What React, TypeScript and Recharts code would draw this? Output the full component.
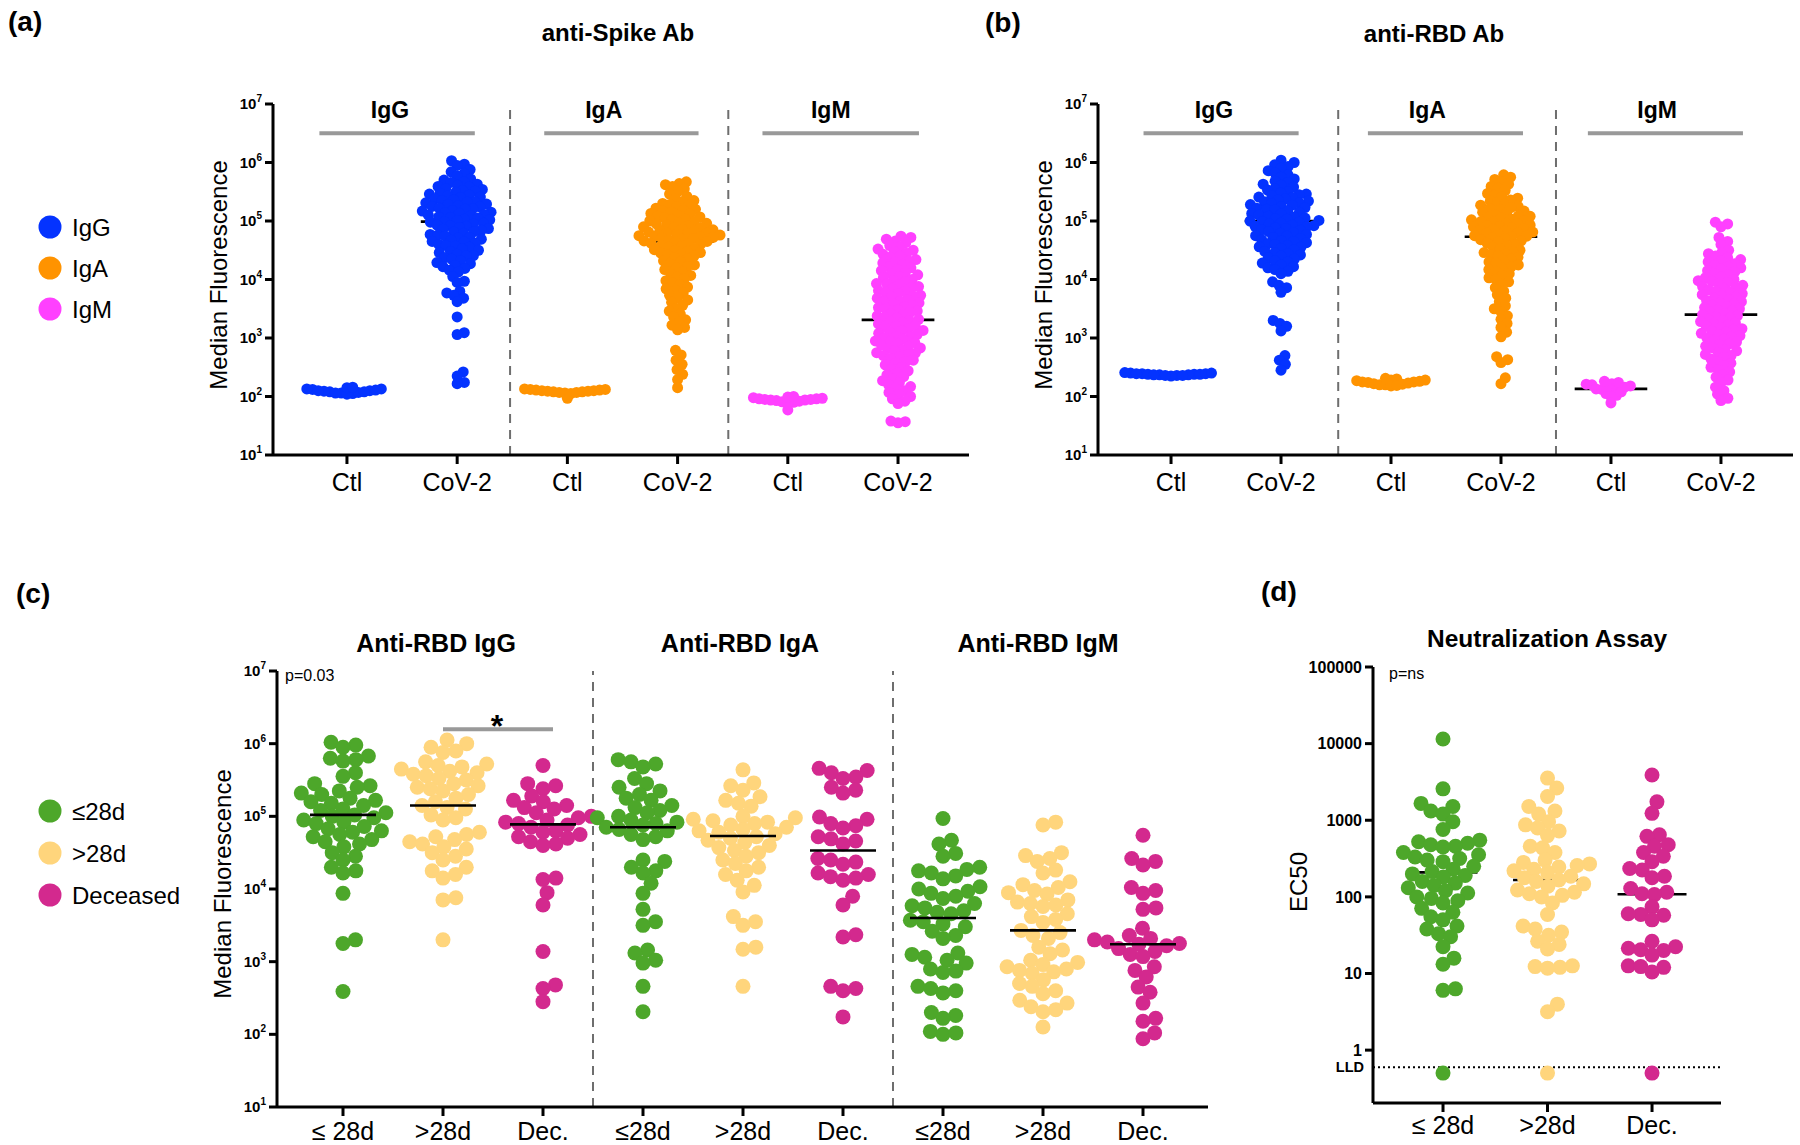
import React from 'react';
import { ScatterChart, Scatter, XAxis, YAxis, ReferenceLine } from 'recharts';

const FONT = '"Liberation Sans", Arial, Helvetica, sans-serif';

// ================= DATA (values are log10 of the plotted quantity) =================
const abCategories = ['Ctl', 'CoV-2', 'Ctl', 'CoV-2', 'Ctl', 'CoV-2'];
const abGroupLabels = ['IgG', 'IgA', 'IgM'];
const powerTicks = [1, 2, 3, 4, 5, 6, 7];

// (a) anti-Spike
const spikeCtlIgG = [2.13, 2.1, 2.08, 2.12, 2.06, 2.09, 2.05, 2.07, 2.04, 2.1, 2.08, 2.06, 2.11, 2.13, 2.15, 2.16];
const spikeCovIgG = [
  6.03, 5.97, 5.95, 5.88, 5.84, 5.81, 5.77, 5.72, 5.7, 5.67, 5.66, 5.63, 5.61,
  5.59, 5.58, 5.55, 5.54, 5.52, 5.51, 5.49, 5.47, 5.46, 5.44, 5.43, 5.41, 5.4, 5.38, 5.36, 5.35, 5.33, 5.32, 5.31, 5.29, 5.28,
  5.26, 5.25, 5.24, 5.22, 5.21, 5.2, 5.18, 5.17, 5.15, 5.14, 5.13, 5.11, 5.1, 5.09,
  5.07, 5.06, 5.05, 5.03, 5.02, 5.01, 4.99, 4.98, 4.96, 4.95, 4.93, 4.92, 4.91, 4.89,
  4.87, 4.86, 4.84, 4.82, 4.81, 4.79, 4.77, 4.76, 4.74, 4.72, 4.71, 4.69,
  4.67, 4.65, 4.64, 4.62, 4.6, 4.58, 4.57, 4.55, 4.52, 4.5,
  4.48, 4.46, 4.43, 4.41, 4.4, 4.37, 4.35, 4.32, 4.29, 4.27, 4.24, 4.22, 4.19, 4.16, 4.13,
  4.05, 3.97, 3.95, 3.8, 3.77, 3.73, 3.68, 3.62, 3.36, 3.09, 3.06, 2.42, 2.35, 2.24, 2.22,
];
const spikeCtlIgA = [2.1, 2.12, 2.08, 2.06, 1.97, 2.07, 2.11, 2.09, 2.05, 2.08, 2.1, 2.07, 2.09, 2.11, 2.12, 2.13];
const spikeCovIgA = [
  5.67, 5.64, 5.62, 5.59, 5.55, 5.5, 5.46, 5.42,
  5.38, 5.35, 5.33, 5.3, 5.28, 5.26, 5.24, 5.22, 5.2,
  5.18, 5.17, 5.15, 5.13, 5.12, 5.1, 5.08, 5.07, 5.05, 5.03, 5.02, 5.0,
  4.99, 4.97, 4.96, 4.95, 4.93, 4.92, 4.9, 4.89, 4.88, 4.86, 4.85, 4.84, 4.83, 4.81, 4.8,
  4.79, 4.78, 4.77, 4.76, 4.75, 4.74, 4.73, 4.72, 4.71, 4.7, 4.69, 4.68, 4.66, 4.65, 4.64, 4.62, 4.61, 4.6,
  4.58, 4.56, 4.55, 4.53, 4.51, 4.5, 4.48, 4.46, 4.45, 4.43, 4.42, 4.4,
  4.37, 4.35, 4.32, 4.3, 4.27, 4.25, 4.22, 4.2, 4.17, 4.13, 4.1, 4.07, 4.04, 4.01,
  3.98, 3.94, 3.91, 3.87, 3.84, 3.81, 3.77, 3.73, 3.69, 3.65, 3.61, 3.56, 3.51, 3.46, 3.41,
  3.36, 3.31, 3.27, 3.22, 3.18, 3.14, 2.79, 2.71, 2.62, 2.55, 2.46, 2.38, 2.29, 2.15,
];
const spikeCtlIgM = [1.98, 1.96, 1.94, 1.92, 1.95, 1.9, 1.77, 1.93, 1.96, 1.91, 1.89, 1.94, 1.99, 2.0, 1.97, 1.95];
const spikeCovIgM = [
  4.74, 4.72, 4.69, 4.66, 4.63, 4.58, 4.56, 4.52, 4.5,
  4.48, 4.45, 4.43, 4.4, 4.38, 4.34, 4.32, 4.3, 4.28, 4.26, 4.22, 4.2, 4.17, 4.15, 4.12, 4.1,
  4.08, 4.05, 4.03, 4.0, 3.98, 3.96, 3.93, 3.92, 3.9, 3.88, 3.86, 3.84, 3.81, 3.8, 3.78, 3.76, 3.73, 3.72, 3.7,
  3.68, 3.66, 3.63, 3.62, 3.6, 3.58, 3.56, 3.53, 3.52, 3.5, 3.48, 3.46, 3.44, 3.41, 3.4, 3.38, 3.35, 3.34, 3.32, 3.3,
  3.28, 3.26, 3.24, 3.21, 3.2, 3.18, 3.16, 3.13, 3.12, 3.1, 3.08, 3.06, 3.03, 3.02, 3.0, 2.98, 2.95, 2.94, 2.92, 2.9,
  2.88, 2.86, 2.83, 2.82, 2.8, 2.78, 2.75, 2.74, 2.72, 2.7, 2.68, 2.65, 2.62, 2.6, 2.57, 2.54, 2.5,
  2.47, 2.44, 2.4, 2.37, 2.34, 2.3, 2.27, 2.24, 2.2, 2.17, 2.14, 2.1, 2.07, 2.03, 2.0, 1.96, 1.92, 1.88,
  1.57, 1.55, 1.58,
];
const spikeMedians = [2.08, 4.99, 2.09, 4.65, 1.94, 3.31];

// (b) anti-RBD
const rbdCtlIgG = [2.38, 2.4, 2.36, 2.39, 2.37, 2.35, 2.38, 2.36, 2.37, 2.39, 2.36, 2.38, 2.37, 2.39, 2.4, 2.41];
const rbdCovIgG = [
  6.04, 6.0, 5.96, 5.93, 5.9, 5.86, 5.82, 5.79, 5.75, 5.72,
  5.68, 5.66, 5.63, 5.61, 5.58, 5.55, 5.53, 5.5,
  5.48, 5.46, 5.45, 5.43, 5.41, 5.4, 5.38, 5.36, 5.34, 5.33, 5.31, 5.3,
  5.28, 5.27, 5.25, 5.23, 5.22, 5.2, 5.19, 5.17, 5.15, 5.13, 5.12, 5.1,
  5.08, 5.07, 5.05, 5.04, 5.03, 5.01, 5.0, 4.99, 4.98, 4.96, 4.95, 4.93, 4.92, 4.91, 4.9,
  4.88, 4.87, 4.85, 4.84, 4.82, 4.8, 4.79, 4.77, 4.75, 4.74, 4.72, 4.7,
  4.68, 4.66, 4.65, 4.63, 4.61, 4.6, 4.58, 4.56, 4.55, 4.53, 4.51,
  4.48, 4.46, 4.44, 4.42, 4.4, 4.37, 4.35, 4.32, 4.3, 4.28, 4.25, 4.22, 4.2, 4.17, 4.14, 4.1,
  3.96, 3.9, 3.86, 3.78, 3.3, 3.25, 3.2, 3.12, 2.7, 2.62, 2.55, 2.45,
];
const rbdCtlIgA = [2.28, 2.3, 2.25, 2.22, 2.2, 2.26, 2.21, 2.18, 2.23, 2.19, 2.24, 2.2, 2.25, 2.27, 2.28, 2.31];
const rbdCovIgA = [
  5.79, 5.75, 5.71, 5.67, 5.63, 5.59, 5.56, 5.52,
  5.47, 5.44, 5.41, 5.39, 5.36, 5.34, 5.31,
  5.29, 5.27, 5.25, 5.23, 5.21, 5.19, 5.17, 5.15, 5.13, 5.11,
  5.09, 5.08, 5.06, 5.05, 5.03, 5.02, 5.01, 4.99, 4.98, 4.96, 4.95, 4.93, 4.92, 4.91, 4.9,
  4.88, 4.87, 4.85, 4.84, 4.83, 4.81, 4.8, 4.79, 4.77, 4.75, 4.74, 4.73, 4.71, 4.7,
  4.68, 4.66, 4.64, 4.62, 4.6, 4.58, 4.55, 4.52, 4.5,
  4.48, 4.46, 4.44, 4.42, 4.4, 4.38, 4.35, 4.32, 4.3,
  4.28, 4.25, 4.22, 4.2, 4.17, 4.13, 4.1, 4.07, 4.03, 4.0, 3.96, 3.92,
  3.86, 3.8, 3.74, 3.68, 3.62, 3.55, 3.5, 3.45, 3.38, 3.32, 3.25, 3.18, 3.1, 3.02,
  2.68, 2.63, 2.58, 2.32, 2.22,
];
const rbdCtlIgM = [2.22, 2.18, 2.1, 2.05, 2.15, 2.12, 2.2, 2.02, 2.08, 2.0, 2.17, 2.26, 2.13, 1.89, 2.16, 2.21, 2.24];
const rbdCovIgM = [
  4.98, 4.95, 4.9, 4.72, 4.65, 4.6,
  4.5, 4.46, 4.44, 4.4, 4.37, 4.34, 4.32, 4.3, 4.27, 4.24, 4.22, 4.2,
  4.18, 4.15, 4.13, 4.1, 4.08, 4.05, 4.03, 4.0,
  3.98, 3.97, 3.95, 3.93, 3.9, 3.88, 3.86, 3.84, 3.82, 3.8,
  3.78, 3.76, 3.74, 3.72, 3.7, 3.68, 3.66, 3.64, 3.62, 3.6,
  3.58, 3.56, 3.54, 3.52, 3.5, 3.48, 3.46, 3.44, 3.42, 3.4,
  3.38, 3.36, 3.34, 3.32, 3.3, 3.28, 3.26, 3.24, 3.22, 3.2,
  3.18, 3.16, 3.14, 3.12, 3.1, 3.08, 3.06, 3.04, 3.02, 3.0,
  2.98, 2.96, 2.93, 2.9, 2.88, 2.86, 2.83, 2.8,
  2.78, 2.75, 2.72, 2.7, 2.67, 2.64, 2.6,
  2.57, 2.53, 2.5, 2.46, 2.42, 2.37, 2.33, 2.28, 2.24,
  2.16, 2.1, 2.04, 1.97, 1.93,
];
const rbdMedians = [2.38, 5.0, 2.25, 4.73, 2.13, 3.4];

// (c) anti-RBD by group
const cCategories = ['≤ 28d', '>28d', 'Dec.', '≤28d', '>28d', 'Dec.', '≤28d', '>28d', 'Dec.'];
const cTitles = ['Anti-RBD IgG', 'Anti-RBD IgA', 'Anti-RBD IgM'];
const cIgGLe28 = [6.02, 5.98, 5.95, 5.83, 5.8, 5.78, 5.76, 5.6, 5.55, 5.45, 5.42, 5.4, 5.35, 5.32, 5.3, 5.25, 5.22, 5.2, 5.18, 5.15, 5.1, 5.08, 5.05, 5.02, 5.0, 4.98, 4.95, 4.92, 4.9, 4.86, 4.83, 4.8, 4.78, 4.75, 4.72, 4.68, 4.65, 4.62, 4.58, 4.5, 4.45, 4.4, 4.3, 4.25, 4.22, 3.94, 3.3, 3.25, 2.59];
const cIgGGt28 = [6.05, 6.0, 5.95, 5.9, 5.88, 5.75, 5.72, 5.7, 5.68, 5.65, 5.62, 5.6, 5.58, 5.56, 5.52, 5.5, 5.45, 5.42, 5.4, 5.38, 5.35, 5.3, 5.25, 5.2, 5.15, 5.12, 5.1, 5.02, 4.98, 4.95, 4.78, 4.75, 4.72, 4.68, 4.65, 4.62, 4.58, 4.55, 4.5, 4.45, 4.4, 4.3, 4.25, 4.2, 4.15, 3.88, 3.85, 3.3];
const cIgGDec = [5.7, 5.45, 5.42, 5.38, 5.28, 5.22, 5.2, 5.15, 5.12, 5.1, 5.05, 5.0, 4.98, 4.95, 4.92, 4.9, 4.88, 4.85, 4.8, 4.78, 4.75, 4.72, 4.7, 4.65, 4.62, 4.6, 4.15, 4.13, 3.95, 3.78, 3.14, 2.68, 2.63, 2.45];
const cIgALe28 = [5.78, 5.75, 5.72, 5.68, 5.52, 5.45, 5.4, 5.35, 5.3, 5.25, 5.22, 5.15, 5.12, 5.08, 5.05, 5.0, 4.98, 4.95, 4.92, 4.9, 4.88, 4.85, 4.82, 4.8, 4.75, 4.72, 4.68, 4.4, 4.38, 4.3, 4.25, 4.22, 4.08, 3.94, 3.72, 3.55, 3.5, 3.16, 3.12, 3.02, 2.98, 2.66, 2.31];
const cIgAGt28 = [5.64, 5.46, 5.42, 5.36, 5.27, 5.22, 5.18, 5.14, 5.0, 4.98, 4.96, 4.94, 4.92, 4.9, 4.88, 4.85, 4.82, 4.8, 4.78, 4.76, 4.72, 4.7, 4.67, 4.64, 4.6, 4.57, 4.53, 4.5, 4.45, 4.4, 4.35, 4.3, 4.25, 4.2, 4.12, 4.05, 3.96, 3.62, 3.55, 3.5, 3.2, 3.17, 2.66];
const cIgADec = [5.66, 5.63, 5.6, 5.54, 5.52, 5.4, 5.36, 5.32, 4.99, 4.96, 4.9, 4.87, 4.84, 4.72, 4.69, 4.66, 4.62, 4.42, 4.4, 4.37, 4.34, 4.22, 4.2, 4.17, 4.15, 4.12, 3.9, 3.78, 3.37, 3.34, 2.66, 2.63, 2.6, 2.24];
const cIgMLe28 = [4.97, 4.67, 4.62, 4.49, 4.45, 4.3, 4.27, 4.25, 4.22, 4.18, 4.14, 4.03, 4.0, 3.97, 3.94, 3.9, 3.87, 3.8, 3.77, 3.74, 3.7, 3.68, 3.66, 3.57, 3.55, 3.52, 3.48, 3.42, 3.36, 3.32, 3.12, 3.1, 3.06, 3.02, 2.98, 2.9, 2.87, 2.85, 2.66, 2.63, 2.6, 2.57, 2.3, 2.26, 2.22, 2.04, 2.0, 2.02];
const cIgMGt28 = [4.92, 4.88, 4.5, 4.46, 4.42, 4.38, 4.26, 4.22, 4.1, 4.06, 4.02, 3.98, 3.95, 3.93, 3.85, 3.82, 3.8, 3.78, 3.76, 3.66, 3.62, 3.58, 3.54, 3.43, 3.4, 3.36, 3.32, 3.2, 3.16, 3.11, 3.02, 2.99, 2.96, 2.93, 2.9, 2.88, 2.86, 2.84, 2.75, 2.7, 2.66, 2.6, 2.56, 2.47, 2.43, 2.38, 2.34, 2.31, 2.1];
const cIgMDec = [4.74, 4.42, 4.38, 4.33, 4.02, 3.98, 3.94, 3.74, 3.72, 3.46, 3.36, 3.32, 3.3, 3.27, 3.25, 3.24, 3.22, 3.18, 3.14, 3.1, 3.07, 2.93, 2.88, 2.79, 2.65, 2.58, 2.43, 2.22, 2.18, 2.02, 1.94];
const cMedians = [5.02, 5.15, 4.89, 4.85, 4.73, 4.53, 3.6, 3.43, 3.24];

// (d) neutralization EC50
const dCategories = ['≤ 28d', '>28d', 'Dec.'];
const dTickLabels = ['1', '10', '100', '1000', '10000', '100000'];
const lldValue = 0.6;
const ec50Le28 = [4.06, 3.41, 3.22, 3.18, 3.12, 3.08, 2.98, 2.88, 2.74, 2.72, 2.7, 2.68, 2.66, 2.65, 2.58, 2.55, 2.52, 2.5, 2.48, 2.46, 2.4, 2.36, 2.33, 2.3, 2.28, 2.26, 2.2, 2.18, 2.15, 2.12, 2.08, 2.05, 2.0, 1.98, 1.95, 1.92, 1.85, 1.8, 1.74, 1.7, 1.62, 1.58, 1.52, 1.48, 1.35, 1.2, 1.12, 0.8, 0.78, -0.3];
const ec50Gt28 = [3.55, 3.42, 3.31, 3.18, 3.12, 3.08, 2.98, 2.94, 2.9, 2.86, 2.8, 2.66, 2.64, 2.58, 2.48, 2.45, 2.43, 2.41, 2.39, 2.36, 2.34, 2.32, 2.27, 2.25, 2.22, 2.2, 2.17, 2.14, 2.09, 2.06, 2.04, 2.02, 2.0, 1.92, 1.77, 1.62, 1.58, 1.54, 1.5, 1.42, 1.38, 1.32, 1.1, 1.09, 1.08, 1.07, 0.6, 0.5, -0.3];
const ec50Dec = [3.59, 3.24, 3.09, 2.81, 2.79, 2.68, 2.66, 2.58, 2.53, 2.46, 2.37, 2.35, 2.27, 2.25, 2.11, 2.06, 2.04, 2.03, 1.87, 1.77, 1.76, 1.78, 1.7, 1.42, 1.35, 1.33, 1.31, 1.3, 1.24, 1.1, 1.09, 1.08, 1.02, -0.3];
const dMedians = [2.32, 2.22, 2.035];

// ================= COLORS =================
const BLUE = '#0433FF';
const ORANGE = '#FF9300';
const MAGENTA = '#FF40FF';
const GREEN = '#4DA72A';
const YELLOW = '#FFD57C';
const DECEASED = '#D3298E';

// ================= HELPERS =================
function swarm(values: number[], ppy: number, gap: number): number[] {
  const order = values.map((_, i) => i).sort((a, b) => values[a] - values[b]);
  const placed: { x: number; y: number }[] = [];
  const out = new Array(values.length).fill(0);
  for (const i of order) {
    const y = values[i] * ppy;
    const near = placed.filter((p) => Math.abs(p.y - y) < gap);
    const cands = [0];
    for (const p of near) {
      const dx = Math.sqrt(gap * gap - (p.y - y) * (p.y - y));
      cands.push(p.x + dx, p.x - dx);
    }
    cands.sort((a, b) => Math.abs(a) - Math.abs(b));
    let chosen = 0;
    for (const c of cands) {
      if (near.every((p) => (p.x - c) ** 2 + (p.y - y) ** 2 >= gap * gap - 0.01)) {
        chosen = c;
        break;
      }
    }
    placed.push({ x: chosen, y });
    out[i] = chosen;
  }
  return out;
}

const PowerTick = (props: any) => {
  const { x, y, payload } = props;
  return (
    <text x={x} y={y} textAnchor="end" fill="#000" fontWeight={700} fontSize={15}>
      <tspan dy={5}>10</tspan>
      <tspan dy={-7} fontSize={10}>{payload.value}</tspan>
    </text>
  );
};

type Group = { x: number; values: number[]; color: string; gap: number };
type Bar = { x1: number; x2: number; y: number; label: string; labelX: number; fontSize: number; offset: number };

type PanelProps = {
  box: { left: number; top: number; width: number; height: number };
  plot: { left: number; right: number; top: number; bottom: number };
  xDomain: [number, number];
  yDomain: [number, number];
  xLabels: string[];
  yTicks: number[];
  yTick: any;
  yTickFormatter?: (v: number) => string;
  xTickMargin: number;
  groups: Group[];
  medians: number[];
  medianOnTop: boolean;
  r: number;
  separators: number[];
  bars: Bar[];
  lld?: number;
};

function Panel(p: PanelProps) {
  const xAxisHeight = 40;
  const ppx = (p.plot.right - p.plot.left) / (p.xDomain[1] - p.xDomain[0]);
  const ppy = (p.plot.bottom - p.plot.top) / (p.yDomain[1] - p.yDomain[0]);
  const series = p.groups.map((g) => {
    const off = swarm(g.values, ppy, g.gap);
    return g.values.map((v, i) => ({ x: g.x + off[i] / ppx, y: v }));
  });
  const medData = p.medians.map((m, i) => ({ x: p.groups[i].x, y: m }));
  const hw = 0.33 * ppx;
  const medianScatter = (
    <Scatter
      key="medians"
      data={medData}
      isAnimationActive={false}
      shape={(s: any) => (
        <line x1={s.cx - hw} x2={s.cx + hw} y1={s.cy} y2={s.cy} stroke="#000" strokeWidth={2.6} />
      )}
    />
  );
  const xTicks = p.xLabels.map((_, i) => i);
  return (
    <div style={{ position: 'absolute', left: p.box.left, top: p.box.top }}>
      <ScatterChart
        width={p.box.width}
        height={p.box.height}
        margin={{
          top: p.plot.top - p.box.top,
          right: p.box.left + p.box.width - p.plot.right,
          left: 0,
          bottom: p.box.top + p.box.height - p.plot.bottom - xAxisHeight,
        }}
      >
        <XAxis
          type="number"
          dataKey="x"
          domain={p.xDomain}
          ticks={xTicks}
          interval={0}
          allowDataOverflow
          height={xAxisHeight}
          tickFormatter={(v: number) => p.xLabels[Math.round(v)]}
          axisLine={{ stroke: '#000', strokeWidth: 3 }}
          tickLine={{ stroke: '#000', strokeWidth: 3 }}
          tickSize={9}
          tickMargin={p.xTickMargin}
          tick={{ fill: '#000', fontSize: 25 }}
        />
        <YAxis
          type="number"
          dataKey="y"
          domain={p.yDomain}
          ticks={p.yTicks}
          interval={0}
          allowDataOverflow
          width={p.plot.left - p.box.left}
          axisLine={{ stroke: '#000', strokeWidth: 3 }}
          tickLine={{ stroke: '#000', strokeWidth: 3 }}
          tickSize={8}
          tickMargin={3}
          tick={p.yTick}
          tickFormatter={p.yTickFormatter}
        />
        {p.separators.map((x, i) => (
          <ReferenceLine key={'sep' + i} x={x} stroke="#6e6e6e" strokeWidth={2} strokeDasharray="9 7" />
        ))}
        {p.bars.map((b, i) => (
          <ReferenceLine
            key={'bar' + i}
            segment={[{ x: b.x1, y: b.y }, { x: b.x2, y: b.y }]}
            stroke="#999999"
            strokeWidth={4}
            label={(lp: any) => {
              const vb = lp.viewBox || { x: 0, y: 0 };
              return (
                <text
                  x={vb.x + (b.labelX - b.x1) * ppx}
                  y={vb.y - b.offset}
                  textAnchor="middle"
                  fontSize={b.fontSize}
                  fontWeight={700}
                  fill="#000"
                >
                  {b.label}
                </text>
              );
            }}
          />
        ))}
        {p.lld !== undefined ? (
          <ReferenceLine
            key="lld"
            y={Math.log10(p.lld)}
            stroke="#000"
            strokeWidth={2}
            strokeDasharray="2 3"
            label={(lp: any) => {
              const vb = lp.viewBox || { x: 0, y: 0 };
              return (
                <text x={vb.x - 9} y={vb.y + 5} textAnchor="end" fontSize={14.5} fontWeight={700} fill="#000">
                  LLD
                </text>
              );
            }}
          />
        ) : null}
        {!p.medianOnTop ? medianScatter : null}
        {p.groups.map((g, gi) => (
          <Scatter
            key={'g' + gi}
            data={series[gi]}
            fill={g.color}
            isAnimationActive={false}
            shape={(s: any) => <circle cx={s.cx} cy={s.cy} r={p.r} fill={g.color} />}
          />
        ))}
        {p.medianOnTop ? medianScatter : null}
      </ScatterChart>
    </div>
  );
}

const abColors = [BLUE, BLUE, ORANGE, ORANGE, MAGENTA, MAGENTA];
const cColors = [GREEN, YELLOW, DECEASED];

export default function App() {
  const spikeGroups: Group[] = [spikeCtlIgG, spikeCovIgG, spikeCtlIgA, spikeCovIgA, spikeCtlIgM, spikeCovIgM].map(
    (vals, i) => ({ x: i, values: vals, color: abColors[i], gap: i % 2 === 0 ? 5.8 : 7.3 })
  );
  const rbdGroups: Group[] = [rbdCtlIgG, rbdCovIgG, rbdCtlIgA, rbdCovIgA, rbdCtlIgM, rbdCovIgM].map((vals, i) => ({
    x: i,
    values: vals,
    color: abColors[i],
    gap: i % 2 === 0 ? 5.8 : 7.3,
  }));
  const cGroups: Group[] = [cIgGLe28, cIgGGt28, cIgGDec, cIgALe28, cIgAGt28, cIgADec, cIgMLe28, cIgMGt28, cIgMDec].map(
    (vals, i) => ({ x: i, values: vals, color: cColors[i % 3], gap: 13 })
  );
  const dGroups: Group[] = [ec50Le28, ec50Gt28, ec50Dec].map((vals, i) => ({
    x: i,
    values: vals,
    color: cColors[i],
    gap: 12.5,
  }));

  const abBarsA: Bar[] = [
    { x1: -0.25, x2: 1.16, y: 6.5, label: abGroupLabels[0], labelX: 0.39, fontSize: 23, offset: 15 },
    { x1: 1.79, x2: 3.19, y: 6.5, label: abGroupLabels[1], labelX: 2.33, fontSize: 23, offset: 15 },
    { x1: 3.77, x2: 5.19, y: 6.5, label: abGroupLabels[2], labelX: 4.39, fontSize: 23, offset: 15 },
  ];
  const abBarsB: Bar[] = [
    { x1: -0.25, x2: 1.16, y: 6.5, label: abGroupLabels[0], labelX: 0.39, fontSize: 23, offset: 15 },
    { x1: 1.79, x2: 3.2, y: 6.5, label: abGroupLabels[1], labelX: 2.33, fontSize: 23, offset: 15 },
    { x1: 3.79, x2: 5.2, y: 6.5, label: abGroupLabels[2], labelX: 4.42, fontSize: 23, offset: 15 },
  ];
  const cBars: Bar[] = [{ x1: 1, x2: 2.1, y: 6.2, label: '*', labelX: 1.54, fontSize: 32, offset: -8 }];

  const legendA = [
    { label: 'IgG', color: BLUE },
    { label: 'IgA', color: ORANGE },
    { label: 'IgM', color: MAGENTA },
  ];
  const legendC = [
    { label: '≤28d', color: GREEN },
    { label: '>28d', color: YELLOW },
    { label: 'Deceased', color: DECEASED },
  ];

  return (
    <div
      style={{
        position: 'absolute',
        left: 0,
        top: 0,
        width: 1800,
        height: 1145,
        background: '#fff',
        fontFamily: FONT,
        overflow: 'hidden',
      }}
    >
      <svg width={1800} height={1145} style={{ position: 'absolute', left: 0, top: 0 }} fontFamily={FONT}>
        {/* panel letters */}
        <text x={8} y={31} fontSize={28} fontWeight={700}>(a)</text>
        <text x={985} y={32} fontSize={28} fontWeight={700}>(b)</text>
        <text x={16} y={603} fontSize={28} fontWeight={700}>(c)</text>
        <text x={1261} y={601} fontSize={28} fontWeight={700}>(d)</text>
        {/* titles */}
        <text x={618} y={41} fontSize={24} fontWeight={700} textAnchor="middle">anti-Spike Ab</text>
        <text x={1434} y={42} fontSize={24} fontWeight={700} textAnchor="middle">anti-RBD Ab</text>
        <text x={436} y={652} fontSize={25} fontWeight={700} textAnchor="middle">{cTitles[0]}</text>
        <text x={740} y={652} fontSize={25} fontWeight={700} textAnchor="middle">{cTitles[1]}</text>
        <text x={1038} y={652} fontSize={25} fontWeight={700} textAnchor="middle">{cTitles[2]}</text>
        <text x={1547} y={647} fontSize={24.5} fontWeight={700} textAnchor="middle">Neutralization Assay</text>
        {/* y-axis titles */}
        <text transform="translate(227,275) rotate(-90)" fontSize={24} textAnchor="middle">Median Fluorescence</text>
        <text transform="translate(1052,275) rotate(-90)" fontSize={24} textAnchor="middle">Median Fluorescence</text>
        <text transform="translate(231,884) rotate(-90)" fontSize={24} textAnchor="middle">Median Fluorescence</text>
        <text transform="translate(1307,882) rotate(-90)" fontSize={24} textAnchor="middle">EC50</text>
        {/* p-values */}
        <text x={285} y={681} fontSize={16}>p=0.03</text>
        <text x={1389} y={679} fontSize={16}>p=ns</text>
        {/* legends */}
        {legendA.map((l, i) => (
          <g key={'la' + i}>
            <circle cx={50} cy={227 + i * 41} r={11.5} fill={l.color} />
            <text x={72} y={227 + i * 41 + 8.5} fontSize={24}>{l.label}</text>
          </g>
        ))}
        {legendC.map((l, i) => (
          <g key={'lc' + i}>
            <circle cx={50} cy={811 + i * 42} r={11.5} fill={l.color} />
            <text x={72} y={811 + i * 42 + 8.5} fontSize={24}>{l.label}</text>
          </g>
        ))}
      </svg>

      <Panel
        box={{ left: 0, top: 0, width: 1000, height: 520 }}
        plot={{ left: 273, right: 969, top: 104, bottom: 455 }}
        xDomain={[-0.671, 5.644]}
        yDomain={[1, 7]}
        xLabels={abCategories}
        yTicks={powerTicks}
        yTick={PowerTick}
        xTickMargin={9}
        groups={spikeGroups}
        medians={spikeMedians}
        medianOnTop={false}
        r={5.5}
        separators={[1.48, 3.46]}
        bars={abBarsA}
      />
      <Panel
        box={{ left: 1000, top: 0, width: 800, height: 520 }}
        plot={{ left: 1098, right: 1793, top: 104, bottom: 455 }}
        xDomain={[-0.664, 5.655]}
        yDomain={[1, 7]}
        xLabels={abCategories}
        yTicks={powerTicks}
        yTick={PowerTick}
        xTickMargin={9}
        groups={rbdGroups}
        medians={rbdMedians}
        medianOnTop={false}
        r={5.5}
        separators={[1.52, 3.5]}
        bars={abBarsB}
      />
      <Panel
        box={{ left: 0, top: 560, width: 1250, height: 585 }}
        plot={{ left: 277, right: 1208, top: 671, bottom: 1107 }}
        xDomain={[-0.66, 8.65]}
        yDomain={[1, 7]}
        xLabels={cCategories}
        yTicks={powerTicks}
        yTick={PowerTick}
        xTickMargin={6}
        groups={cGroups}
        medians={cMedians}
        medianOnTop={true}
        r={7.5}
        separators={[2.5, 5.5]}
        bars={cBars}
      />
      <Panel
        box={{ left: 1250, top: 560, width: 550, height: 585 }}
        plot={{ left: 1373, right: 1721, top: 667, bottom: 1103 }}
        xDomain={[-0.67, 2.66]}
        yDomain={[-0.69, 5]}
        xLabels={dCategories}
        yTicks={[0, 1, 2, 3, 4, 5]}
        yTick={{ fill: '#000', fontSize: 16, fontWeight: 700 }}
        yTickFormatter={(v: number) => dTickLabels[Math.round(v)]}
        xTickMargin={4}
        groups={dGroups}
        medians={dMedians}
        medianOnTop={false}
        r={7.5}
        separators={[]}
        bars={[]}
        lld={lldValue}
      />
    </div>
  );
}
